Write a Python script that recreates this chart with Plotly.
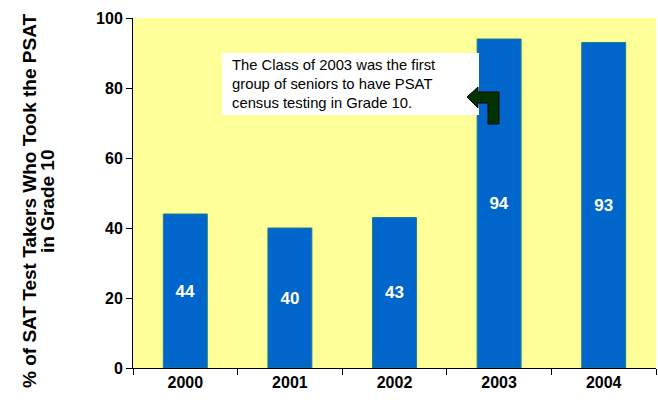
import plotly.graph_objects as go

years = ["2000", "2001", "2002", "2003", "2004"]
pct = [44, 40, 43, 94, 93]
y_ticks = [0, 20, 40, 60, 80, 100]

FONT = "Arial, Liberation Sans, sans-serif"
L, R, T, B = 133, 2, 18, 36
W, H = 658, 404
PW, PH = W - L - R, H - T - B

def px(x):
    return (x - L) / PW

def py(y):
    return (H - B - y) / PH

fig = go.Figure(go.Bar(
    x=years, y=pct,
    marker=dict(color="#0066CC", line=dict(color="#1E7F7F", width=1)),
    text=[str(v) for v in pct], textposition="inside", insidetextanchor="middle",
    textfont=dict(family=FONT, size=17, color="white", weight="bold"),
    cliponaxis=False,
))

# arrow polygon (pixel -> paper)
pts = [(467, 97), (478, 87), (478, 92), (499, 92), (499, 124), (488, 124),
       (488, 103), (478, 103), (478, 108)]
path = "M " + " L ".join(f"{px(a):.4f},{py(b):.4f}" for a, b in pts) + " Z"

fig.update_layout(
    width=W, height=H,
    margin=dict(l=L, r=R, t=T, b=B),
    paper_bgcolor="white", plot_bgcolor="#FFFF99",
    bargap=0.58,
    showlegend=False,
    font=dict(family=FONT, color="black"),
    xaxis=dict(showline=True, linecolor="black", linewidth=1, ticks="outside",
               tickson="boundaries", ticklen=6, tickcolor="black",
               tickfont=dict(family=FONT, size=16, weight="bold"),
               showgrid=False),
    yaxis=dict(range=[0, 100], tickvals=y_ticks, showline=True, linecolor="black",
               linewidth=1, ticks="outside", ticklen=6, tickcolor="black",
               tickfont=dict(family=FONT, size=16, weight="bold"),
               showgrid=False, zeroline=False),
    shapes=[
        dict(type="rect", xref="paper", yref="paper", x0=px(222), x1=px(479),
             y0=py(115), y1=py(53), fillcolor="white", line=dict(width=0)),
        dict(type="path", xref="paper", yref="paper", path=path,
             fillcolor="#003300", line=dict(color="black", width=1)),
    ],
    annotations=[
        dict(xref="paper", yref="paper", x=px(230), y=py(84), xanchor="left",
             yanchor="middle", align="left", showarrow=False,
             text="The Class of 2003 was the first<br>group of seniors to have PSAT<br>census testing in Grade 10.",
             font=dict(family=FONT, size=14.8, color="black")),
        dict(xref="paper", yref="paper", x=px(29), y=py(201), xanchor="center",
             yanchor="middle", textangle=-90, showarrow=False,
             text="% of SAT Test Takers Who Took the PSAT",
             font=dict(family=FONT, size=19, color="black", weight="bold")),
        dict(xref="paper", yref="paper", x=px(47), y=py(201), xanchor="center",
             yanchor="middle", textangle=-90, showarrow=False,
             text="in Grade 10",
             font=dict(family=FONT, size=19, color="black", weight="bold")),
    ],
)

fig.write_html("out.html")
